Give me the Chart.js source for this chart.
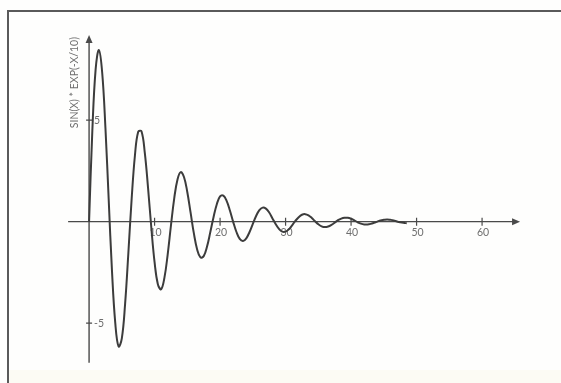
<!DOCTYPE html>
<html lang="en">
<head>
  <meta charset="UTF-8">
  <title>SIN(X) * EXP(-X/10)</title>
  <script src="https://cdn.jsdelivr.net/npm/chart.js@4.4.0/dist/chart.umd.min.js"></script>
  <style>
    html, body { margin: 0; padding: 0; background: #fff; }
    canvas { display: block; }
  </style>
</head>
<body>
  <canvas id="chart" width="561" height="383"></canvas>
  <script>
    // values, every 0.5 on x
    const xValues = [
      0, 0.5, 1, 1.5, 2, 2.5, 3, 3.5, 4, 4.5, 5, 5.5, 6, 6.5, 7, 7.5, 8, 8.5, 9, 9.5,
      10, 10.5, 11, 11.5, 12, 12.5, 13, 13.5, 14, 14.5, 15, 15.5, 16, 16.5, 17, 17.5, 18, 18.5, 19, 19.5,
      20, 20.5, 21, 21.5, 22, 22.5, 23, 23.5, 24, 24.5, 25, 25.5, 26, 26.5, 27, 27.5, 28, 28.5, 29, 29.5,
      30, 30.5, 31, 31.5, 32, 32.5, 33, 33.5, 34, 34.5, 35, 35.5, 36, 36.5, 37, 37.5, 38, 38.5, 39, 39.5,
      40, 40.5, 41, 41.5, 42, 42.5, 43, 43.5, 44, 44.5, 45, 45.5, 46, 46.5, 47, 47.5, 48, 48.5
    ];
    const yValues = [
      0, 4.50, 7.50, 8.45, 7.35, 4.60, 1.05, -2.45, -5.00, -6.15, -5.75, -4.05, -1.53, 1.12, 3.26, 4.43, 4.45, 3.41, 1.68, -0.29,
      -2.00, -3.08, -3.33, -2.77, -1.62, -0.19, 1.15, 2.08, 2.44, 2.19, 1.45, 0.44, -0.58, -1.37, -1.76, -1.70, -1.24, -0.53, 0.22, 0.86,
      1.24, 1.28, 1.02, 0.55, -0.01, -0.51, -0.85, -0.95, -0.82, -0.51, -0.11, 0.28, 0.57, 0.69, 0.64, 0.45, 0.16, -0.13, -0.36, -0.49,
      -0.49, -0.38, -0.18, 0.04, 0.22, 0.34, 0.37, 0.31, 0.18, 0.02, -0.13, -0.23, -0.27, -0.24, -0.16, -0.05, 0.07, 0.15, 0.19, 0.19,
      0.14, 0.06, -0.03, -0.10, -0.14, -0.14, -0.11, -0.06, 0.00, 0.06, 0.09, 0.11, 0.09, 0.06, 0.01, -0.03, -0.06, -0.08
    ];
    const xTicks = [10, 20, 30, 40, 50, 60];
    const yTicks = [5, -5];
    const yTitle = 'SIN(X) * EXP(-X/10)';

    const ink = '#4a4a4a';
    const textInk = '#6e6e6e';

    // hand-drawn looking axes through the origin, with arrow heads
    const axesPlugin = {
      id: 'axes',
      beforeDraw(chart) {
        const c = chart.ctx;
        c.save();
        c.fillStyle = '#fefefd';
        c.fillRect(0, 0, chart.width, chart.height);
        c.fillStyle = '#fcfbf4';
        c.fillRect(8, 370, chart.width - 8, chart.height - 370);
        // frame of the page
        c.strokeStyle = '#5a5a5a';
        c.lineWidth = 2;
        c.beginPath();
        c.moveTo(8, chart.height);
        c.lineTo(8, 11);
        c.lineTo(chart.width, 11);
        c.stroke();
        c.restore();
      },
      beforeDatasetsDraw(chart) {
        const c = chart.ctx;
        const xs = chart.scales.x, ys = chart.scales.y;
        const x0 = xs.getPixelForValue(0), y0 = ys.getPixelForValue(0);
        const xl = xs.getPixelForValue(-3.2), xr = xs.getPixelForValue(65.8);
        const yt = ys.getPixelForValue(9.2), yb = ys.getPixelForValue(-6.95);
        c.save();
        c.strokeStyle = ink;
        c.fillStyle = ink;
        c.lineWidth = 1.4;
        c.beginPath();
        c.moveTo(xl, y0); c.lineTo(xr - 4, y0);
        c.moveTo(x0, yb); c.lineTo(x0, yt + 4);
        c.stroke();
        // arrow heads
        c.beginPath();
        c.moveTo(xr, y0); c.lineTo(xr - 8, y0 - 3.5); c.lineTo(xr - 8, y0 + 3.5); c.closePath();
        c.fill();
        c.beginPath();
        c.moveTo(x0, yt); c.lineTo(x0 - 3.5, yt + 8); c.lineTo(x0 + 3.5, yt + 8); c.closePath();
        c.fill();
        // ticks
        c.lineWidth = 1.2;
        c.beginPath();
        xTicks.forEach(v => {
          const p = xs.getPixelForValue(v);
          c.moveTo(p, y0 - 4); c.lineTo(p, y0 + 4);
        });
        yTicks.forEach(v => {
          const p = ys.getPixelForValue(v);
          c.moveTo(x0 - 3, p); c.lineTo(x0 + 3, p);
        });
        c.stroke();
        // tick labels
        c.fillStyle = textInk;
        c.font = '10.5px Lato';
        c.textAlign = 'center';
        c.textBaseline = 'middle';
        xTicks.forEach(v => c.fillText(String(v), xs.getPixelForValue(v) + 1, y0 + 11));
        c.textAlign = 'left';
        yTicks.forEach(v => c.fillText(v < 0 ? '-' + Math.abs(v) : String(v), x0 + 5, ys.getPixelForValue(v)));
        // axis title, rotated
        c.font = '10.5px Lato';
        c.textAlign = 'center';
        c.translate(x0 - 14, ys.getPixelForValue(6.85));
        c.rotate(-Math.PI / 2);
        c.fillText(yTitle, 0, 0);
        c.restore();
      }
    };

    new Chart(document.getElementById('chart'), {
      type: 'scatter',
      data: {
        datasets: [{
          data: xValues.map((x, i) => ({ x: x, y: yValues[i] })),
          showLine: true,
          borderColor: '#3c3c3c',
          borderWidth: 2,
          pointRadius: 0,
          tension: 0.4,
          fill: false
        }]
      },
      options: {
        responsive: false,
        animation: false,
        layout: { padding: 0 },
        plugins: {
          legend: { display: false },
          tooltip: { enabled: false }
        },
        scales: {
          x: { type: 'linear', display: false, min: -13.6, max: 72.05 },
          y: { type: 'linear', display: false, min: -7.95, max: 10.92 }
        }
      },
      plugins: [axesPlugin]
    });
  </script>
</body>
</html>
